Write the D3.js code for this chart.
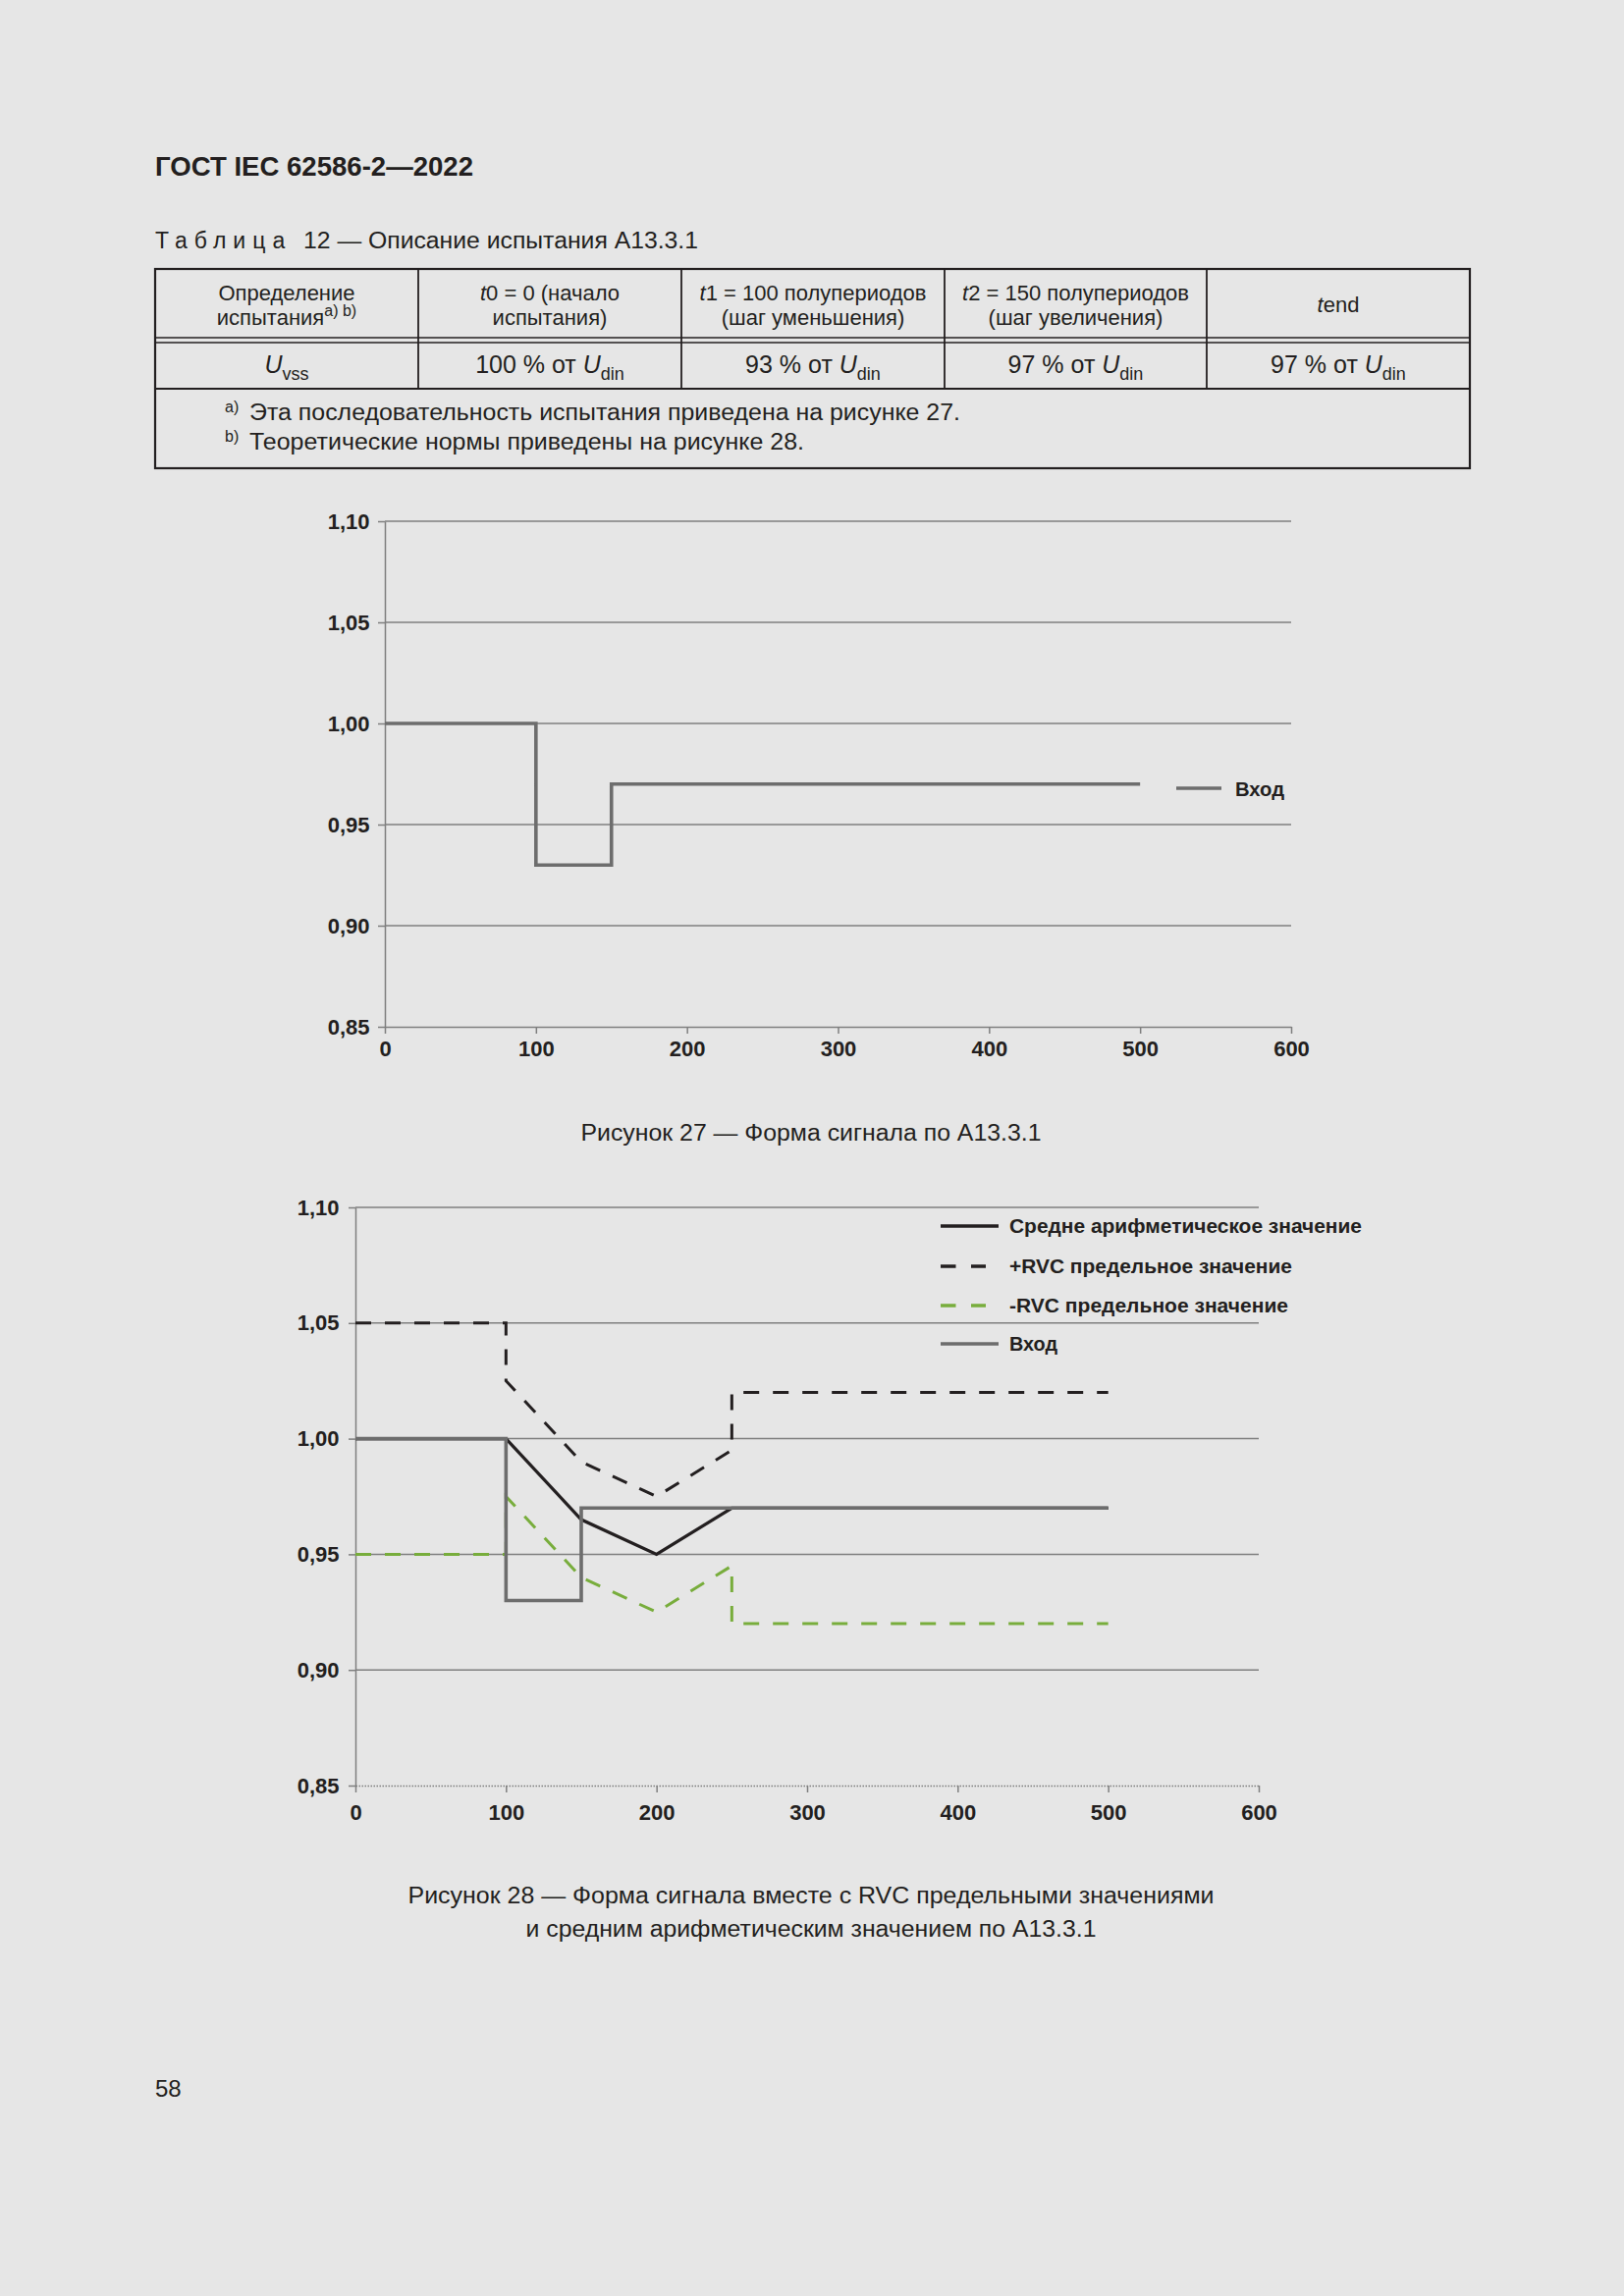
<!DOCTYPE html>
<html><head><meta charset="utf-8">
<script src="https://cdn.jsdelivr.net/npm/d3@7/dist/d3.min.js"></script>
<style>
html,body{margin:0;padding:0;background:#e6e6e6;}
svg{display:block;font-family:"Liberation Sans",Arial,Helvetica,sans-serif;}
</style></head>
<body>
<svg id="page" width="1654" height="2339"></svg>
<script>
// ---------- DATA ----------
const xTicks = [0, 100, 200, 300, 400, 500, 600];
const yTicks = [0.85, 0.90, 0.95, 1.00, 1.05, 1.10];

// Figure 27 / 28 : input signal
const inputX = [0, 100, 100, 150, 150, 500];
const inputY = [1.00, 1.00, 0.93, 0.93, 0.97, 0.97];
// Figure 28 : arithmetic mean
const meanX = [0, 100, 150, 200, 250, 500];
const meanY = [1.00, 1.00, 0.965, 0.95, 0.97, 0.97];
// +RVC limit
const plusX = [0, 100, 100, 150, 200, 250, 250, 500];
const plusY = [1.05, 1.05, 1.025, 0.99, 0.975, 0.995, 1.02, 1.02];
// -RVC limit
const minusX = [0, 100, 100, 150, 200, 250, 250, 500];
const minusY = [0.95, 0.95, 0.975, 0.94, 0.925, 0.945, 0.92, 0.92];

const legend27 = ["Вход"];
const legend28 = ["Средне арифметическое значение", "+RVC предельное значение", "-RVC предельное значение", "Вход"];

// Table
const headLine1 = [["", "Определение"], ["t", "0 = 0 (начало"], ["t", "1 = 100 полупериодов"], ["t", "2 = 150 полупериодов"]];
const headLine2 = ["испытания", "испытания)", "(шаг уменьшения)", "(шаг увеличения)"];
const rowPct = ["100", "93", "97", "97"];
const notes = [["a)", "Эта последовательность испытания приведена на рисунке 27."],
               ["b)", "Теоретические нормы приведены на рисунке 28."]];

// ---------- DRAW ----------
const ink = "#231f20", grid = "#7f7f7f", inGray = "#6d6d6d", green = "#78ad3c";
const svg = d3.select("#page");
svg.append("rect").attr("width", 1654).attr("height", 2339).attr("fill", "#e6e6e6");

function txt(x, y, s, o = {}) {
  const t = svg.append("text").attr("x", x).attr("y", y).attr("fill", ink)
    .attr("font-size", o.size || 22).attr("font-weight", o.bold ? "bold" : "normal")
    .attr("text-anchor", o.anchor || "start").text(s);
  if (o.len) t.attr("textLength", o.len).attr("lengthAdjust", "spacingAndGlyphs");
  if (o.ls) t.attr("letter-spacing", o.ls);
  return t;
}

// Header
txt(158, 179, "ГОСТ IEC 62586-2—2022", {size: 27, bold: true, len: 324});
txt(158, 253, "Таблица", {size: 23, ls: 7});
txt(309, 253, "12 — Описание испытания А13.3.1", {size: 23, len: 402});

// Table frame
const cols = [158, 426, 694, 962, 1229, 1497];
const tTop = 274, tH1 = 344, tH2 = 349, tR2 = 396, tBot = 477;
const tg = svg.append("g").attr("stroke", ink).attr("fill", "none");
tg.append("rect").attr("x", cols[0]).attr("y", tTop).attr("width", cols[5] - cols[0]).attr("height", tBot - tTop).attr("stroke-width", 2.2);
tg.append("line").attr("x1", cols[0]).attr("x2", cols[5]).attr("y1", tH1).attr("y2", tH1).attr("stroke-width", 1.4);
tg.append("line").attr("x1", cols[0]).attr("x2", cols[5]).attr("y1", tH2).attr("y2", tH2).attr("stroke-width", 1.4);
tg.append("line").attr("x1", cols[0]).attr("x2", cols[5]).attr("y1", tR2).attr("y2", tR2).attr("stroke-width", 2.2);
cols.slice(1, 5).forEach(c => tg.append("line").attr("x1", c).attr("x2", c).attr("y1", tTop).attr("y2", tR2).attr("stroke-width", 1.8));
const cc = d3.range(5).map(i => (cols[i] + cols[i + 1]) / 2);

headLine1.forEach((h, i) => {
  const t = txt(cc[i], 306, "", {size: 22, anchor: "middle"});
  if (h[0]) t.append("tspan").attr("font-style", "italic").text(h[0]);
  t.append("tspan").text(h[1]);
});
headLine2.forEach((h, i) => {
  const t = txt(cc[i], 331, "", {size: 22, anchor: "middle"});
  t.append("tspan").text(h);
  if (i === 0) t.append("tspan").attr("font-size", 16).attr("dy", -9).text("a) b)");
});
{
  const t = txt(cc[4], 318, "", {size: 22, anchor: "middle"});
  t.append("tspan").attr("font-style", "italic").text("t");
  t.append("tspan").text("end");
}
{
  const t = txt(cc[0], 380, "", {size: 25, anchor: "middle"});
  t.append("tspan").attr("font-style", "italic").text("U");
  t.append("tspan").attr("font-size", 18).attr("dy", 7).text("vss");
}
rowPct.forEach((p, i) => {
  const t = txt(cc[i + 1], 380, "", {size: 25, anchor: "middle"});
  t.append("tspan").text(p + " % от ");
  t.append("tspan").attr("font-style", "italic").text("U");
  t.append("tspan").attr("font-size", 18).attr("dy", 7).text("din");
});
notes.forEach((n, i) => {
  const y = 428 + i * 30;
  txt(229, y - 8, n[0], {size: 16});
  txt(254, y, n[1], {size: 23, len: i === 0 ? 724 : 565});
});

// ---------- CHART HELPER ----------
const fmt = d => d3.format(".2f")(d).replace(".", ",");

function chart(cfg) {
  const x = d3.scaleLinear().domain([0, 600]).range([cfg.x0, cfg.x1]);
  const y = d3.scaleLinear().domain([0.85, 1.10]).range([cfg.y0, cfg.y1]);
  const g = svg.append("g");
  // gridlines
  g.selectAll("line.grid").data(yTicks.filter(v => v > 0.86)).join("line")
    .attr("x1", x(0)).attr("x2", x(600)).attr("y1", d => y(d)).attr("y2", d => y(d))
    .attr("stroke", grid).attr("stroke-width", 1.5);
  // y axis
  const ya = g.append("g").attr("transform", `translate(${x(0)},0)`)
    .call(d3.axisLeft(y).tickValues(yTicks).tickSize(7).tickSizeOuter(0).tickPadding(cfg.yPad).tickFormat(fmt));
  // x axis
  const xa = g.append("g").attr("transform", `translate(0,${y(0.85)})`)
    .call(d3.axisBottom(x).tickValues(xTicks).tickSize(7).tickSizeOuter(0).tickPadding(cfg.xPad));
  [ya, xa].forEach(a => {
    a.selectAll("path.domain").attr("stroke", grid).attr("stroke-width", 1.5);
    a.selectAll(".tick line").attr("stroke", grid).attr("stroke-width", 1.5);
    a.selectAll("text").attr("fill", ink).attr("font-size", 22).attr("font-weight", "bold")
      .attr("font-family", "'Liberation Sans',Arial,sans-serif");
  });
  if (cfg.dottedX) xa.select("path.domain").attr("stroke-dasharray", "1.5,1.5").attr("stroke-width", 1.3);
  const line = d3.line().x(d => x(d[0])).y(d => y(d[1]));
  return {g, x, y, line};
}
const pts = (xs, ys) => xs.map((v, i) => [v, ys[i]]);

// ---------- FIGURE 27 ----------
const c1 = chart({x0: 392, x1: 1315, y0: 1046, y1: 531, yPad: 8.5, xPad: 7});
c1.g.append("path").attr("d", c1.line(pts(inputX, inputY))).attr("fill", "none")
  .attr("stroke", inGray).attr("stroke-width", 3.6);
c1.g.append("line").attr("x1", 1198).attr("x2", 1244).attr("y1", 803).attr("y2", 803)
  .attr("stroke", inGray).attr("stroke-width", 3.6);
txt(1258, 811, legend27[0], {size: 21, bold: true, len: 50});
txt(826, 1162, "Рисунок 27 — Форма сигнала по А13.3.1", {size: 23, anchor: "middle", len: 469});

// ---------- FIGURE 28 ----------
const c2 = chart({x0: 362, x1: 1282, y0: 1819, y1: 1230, yPad: 9.5, xPad: 12, dottedX: true});
c2.g.append("path").attr("d", c2.line(pts(plusX, plusY))).attr("fill", "none")
  .attr("stroke", ink).attr("stroke-width", 3).attr("stroke-dasharray", "16,14");
c2.g.append("path").attr("d", c2.line(pts(minusX, minusY))).attr("fill", "none")
  .attr("stroke", green).attr("stroke-width", 3).attr("stroke-dasharray", "16,14");
c2.g.append("path").attr("d", c2.line(pts(meanX, meanY))).attr("fill", "none")
  .attr("stroke", ink).attr("stroke-width", 3.2);
c2.g.append("path").attr("d", c2.line(pts(inputX, inputY))).attr("fill", "none")
  .attr("stroke", inGray).attr("stroke-width", 3.6);

// legend 28
const lgY = [1249, 1290, 1330, 1369];
const lgStyle = [{c: ink, d: null}, {c: ink, d: "15.5,15.5"}, {c: green, d: "15.5,15.5"}, {c: inGray, d: null}];
const lgLen = [359, 288, 284, 49];
legend28.forEach((s, i) => {
  const l = svg.append("line").attr("x1", 958).attr("x2", i === 1 || i === 2 ? 1004 : 1017)
    .attr("y1", lgY[i]).attr("y2", lgY[i]).attr("stroke", lgStyle[i].c).attr("stroke-width", 3.4);
  if (lgStyle[i].d) l.attr("stroke-dasharray", lgStyle[i].d);
  txt(1028, lgY[i] + 7, s, {size: 21, bold: true, len: lgLen[i]});
});

txt(826, 1939, "Рисунок 28 — Форма сигнала вместе с RVC предельными значениями", {size: 23, anchor: "middle", len: 821});
txt(826, 1973, "и средним арифметическим значением по А13.3.1", {size: 23, anchor: "middle", len: 581});

// page number
txt(158, 2136, "58", {size: 24});
</script>
</body></html>
